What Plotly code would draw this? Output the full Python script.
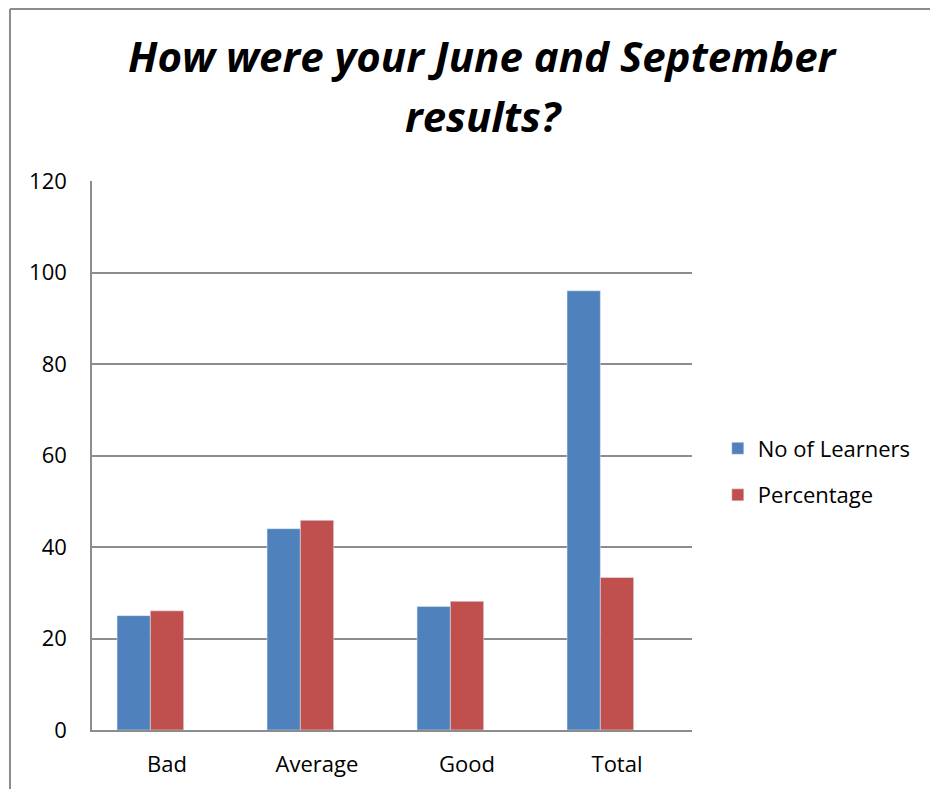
import plotly.graph_objects as go

# -----------------------------------------------------------------------------
# Data
# -----------------------------------------------------------------------------
categories = ["Bad", "Average", "Good", "Total"]
learners = [25, 44, 27, 96]
percentage = [26.04, 45.83, 28.13, 33.33]
y_ticks = [0, 20, 40, 60, 80, 100, 120]

BLUE = "#4F81BD"
RED = "#C0504D"
GRID = "#8c8c8c"
FONT = "Open Sans"

# bars sit left of the category centre, as if a third empty series followed
BAR_W = 0.222

fig = go.Figure()
fig.add_trace(go.Bar(x=categories, y=learners, name="No of Learners",
                     marker_color=BLUE, legendgroup="a",
                     width=BAR_W, offset=-1.5 * BAR_W))
fig.add_trace(go.Bar(x=categories, y=percentage, name="Percentage",
                     marker_color=RED, legendgroup="b",
                     width=BAR_W, offset=-0.5 * BAR_W))

# title, two centred lines
for txt, yy in [("How were your June and September", 1.2278), ("results?", 1.1202)]:
    fig.add_annotation(text="<b><i>" + txt + "</i></b>", x=0.652, y=yy,
                       xref="paper", yref="paper", showarrow=False,
                       xanchor="center", yanchor="middle",
                       font=dict(family=FONT, size=42, color="black"))

# outer chart frame (left and top edges visible)
fig.add_shape(type="line", xref="paper", yref="paper",
              x0=-0.1367, x1=-0.1367, y0=-0.2, y1=1.3133,
              line=dict(color=GRID, width=2))
fig.add_shape(type="line", xref="paper", yref="paper",
              x0=-0.1367, x1=1.6, y0=1.3133, y1=1.3133,
              line=dict(color=GRID, width=2))

fig.update_layout(
    width=930, height=789,
    margin=dict(l=92, r=238, t=181, b=59),
    paper_bgcolor="white", plot_bgcolor="white",
    barmode="overlay",
    font=dict(family=FONT, size=22, color="black"),
    showlegend=True,
    legend=dict(x=1.043, xanchor="left", y=0.47, yanchor="middle",
                traceorder="grouped", tracegroupgap=15,
                font=dict(family=FONT, size=22, color="black")),
)
fig.update_xaxes(showline=True, linecolor=GRID, linewidth=1.5,
                 ticks="", ticklabelstandoff=14, showgrid=False)
fig.update_yaxes(range=[0, 120], tickvals=y_ticks, showline=True,
                 linecolor=GRID, linewidth=1.5, showgrid=True,
                 gridcolor=GRID, gridwidth=1.5, zeroline=False,
                 ticks="", ticklabelstandoff=19)

# drop the browser's default page margin so the figure sits at (0, 0)
fig.write_html("out.html", config={"displayModeBar": False},
               post_script="document.body.style.margin='0';")
